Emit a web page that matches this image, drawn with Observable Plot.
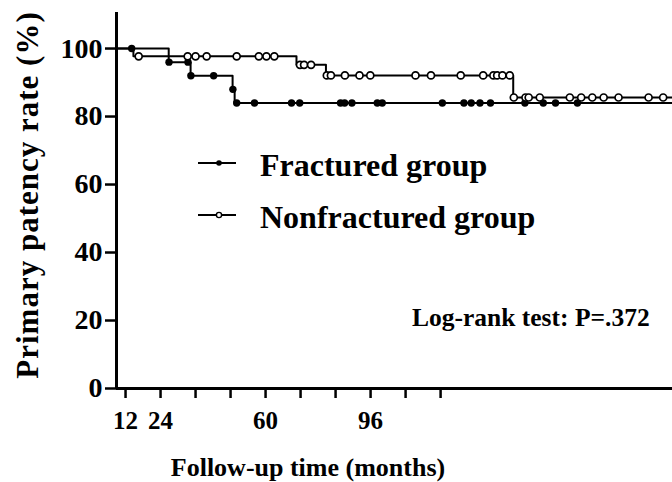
<!DOCTYPE html>
<html><head><meta charset="utf-8">
<script src="https://cdn.jsdelivr.net/npm/d3@7"></script>
<script src="https://cdn.jsdelivr.net/npm/@observablehq/plot@0.6"></script>
<style>
body{margin:0;background:#fff;}
#wrap{position:relative;width:672px;height:482px;}
#wrap svg{display:block;}
#overlay{position:absolute;left:0;top:0;pointer-events:none;}
</style></head><body><div id="wrap"></div>
<script>
// ---- data (months, %) ----
const xTicks = [12, 24, 36, 48, 60, 72, 84, 96, 108, 120];
const xTickLabels = ["12", "24", "", "", "60", "", "", "96", "", ""];
const yTicks = [0, 20, 40, 60, 80, 100];

const fracturedStepTime = [8.9, 26.8, 34.3, 48.7, 49.4, 199.5];
const fracturedStepRate = [100, 96, 92, 88, 84, 84];
const fracturedCensorTime = [14.1, 26.9, 33.4, 34.4, 42.2, 48.8, 50.1, 56.2, 68.9, 71.7, 85.7, 87.1, 89.6, 98.3, 100.0, 120.6, 128.0, 130.5, 133.5, 137.1, 148.9, 155.2, 159.4, 166.9];
const fracturedCensorRate = [100, 96, 96, 92, 92, 88, 84, 84, 84, 84, 84, 84, 84, 84, 84, 84, 84, 84, 84, 84, 84, 84, 84, 84];

const nonfracturedStepTime = [8.9, 14.7, 70.6, 80.7, 144.9, 199.5];
const nonfracturedStepRate = [100, 97.7, 95.2, 92.1, 85.6, 85.6];
const nonfracturedCensorTime = [16.5, 33.3, 36.0, 39.8, 50.1, 57.7, 60.3, 63.0, 71.8, 73.2, 75.6, 81.0, 82.4, 87.2, 92.2, 95.9, 111.4, 116.7, 126.9, 134.6, 138.1, 139.4, 141.2, 143.7, 145.1, 149.1, 150.2, 154.0, 164.3, 168.2, 172.0, 175.9, 181.0, 191.3, 196.3];
const nonfracturedCensorRate = [97.7, 97.7, 97.7, 97.7, 97.7, 97.7, 97.7, 97.7, 95.2, 95.2, 95.2, 92.1, 92.1, 92.1, 92.1, 92.1, 92.1, 92.1, 92.1, 92.1, 92.1, 92.1, 92.1, 92.1, 85.6, 85.6, 85.6, 85.6, 85.6, 85.6, 85.6, 85.6, 85.6, 85.6, 85.6];

const legendLabels = ["Fractured group", "Nonfractured group"];
const xTitle = "Follow-up time (months)";
const yTitle = "Primary patency rate (%)";
const annotation = "Log-rank test: P=.372";

const zip = (t, r) => t.map((d, i) => ({t: d, r: r[i]}));
const fracSteps = zip(fracturedStepTime, fracturedStepRate);
const fracCens = zip(fracturedCensorTime, fracturedCensorRate);
const nonSteps = zip(nonfracturedStepTime, nonfracturedStepRate);
const nonCens = zip(nonfracturedCensorTime, nonfracturedCensorRate);

const xMin = fracturedStepTime[0];
const FONT = '"Liberation Serif", "Times New Roman", serif';

const chart = Plot.plot({
  width: 672, height: 482,
  marginLeft: 116, marginRight: 0, marginTop: 12, marginBottom: 94,
  style: {fontFamily: FONT, fontWeight: "bold", background: "#fff", color: "#000", overflow: "visible"},
  x: {domain: [xMin, 199.5]},
  y: {domain: [0, 110.6]},
  marks: [
    Plot.line(fracSteps, {x: "t", y: "r", curve: "step-after", stroke: "#000", strokeWidth: 2}),
    Plot.line(nonSteps, {x: "t", y: "r", curve: "step-after", stroke: "#000", strokeWidth: 2}),
    Plot.dot(fracCens, {x: "t", y: "r", r: 3.7, fill: "#000", stroke: "none"}),
    Plot.dot(nonCens, {x: "t", y: "r", r: 3.5, fill: "#fff", stroke: "#000", strokeWidth: 1.7}),
    Plot.axisY({ticks: yTicks, tickSize: 11, tickPadding: 3, fontSize: 28, strokeWidth: 2.5, label: null}),
    Plot.axisX({ticks: xTicks, tickSize: 10, tickPadding: 13, fontSize: 25, strokeWidth: 2.5, label: null,
      tickFormat: d => xTickLabels[xTicks.indexOf(d)]}),
    Plot.ruleX([xMin], {stroke: "#000", strokeWidth: 3}),
    Plot.ruleY([0], {stroke: "#000", strokeWidth: 3})
  ]
});

const wrap = document.getElementById("wrap");
wrap.appendChild(chart);

// overlay: titles, legend, annotation
const ov = d3.select(wrap).append("svg").attr("id", "overlay")
  .attr("width", 672).attr("height", 482)
  .style("font-family", FONT).style("font-weight", "bold");

ov.append("text").attr("transform", "translate(38,195) rotate(-90)")
  .attr("text-anchor", "middle").attr("font-size", 31).style("letter-spacing", "1px").text(yTitle);
ov.append("text").attr("x", 308).attr("y", 476)
  .attr("text-anchor", "middle").attr("font-size", 26).text(xTitle);
ov.append("text").attr("x", 412).attr("y", 326)
  .attr("text-anchor", "start").attr("font-size", 25.5).text(annotation);

const rowsY = [163, 215];
legendLabels.forEach((lab, i) => {
  const g = ov.append("g");
  g.append("line").attr("x1", 198).attr("x2", 236).attr("y1", rowsY[i]).attr("y2", rowsY[i])
    .attr("stroke", "#000").attr("stroke-width", 2);
  g.append("circle").attr("cx", 219).attr("cy", rowsY[i]).attr("r", i === 0 ? 2.8 : 2.6)
    .attr("fill", i === 0 ? "#000" : "#fff").attr("stroke", "#000").attr("stroke-width", i === 0 ? 0 : 1.4);
  g.append("text").attr("x", 260).attr("y", rowsY[i] + 13).attr("font-size", 32).text(lab);
});
</script>
</body></html>
